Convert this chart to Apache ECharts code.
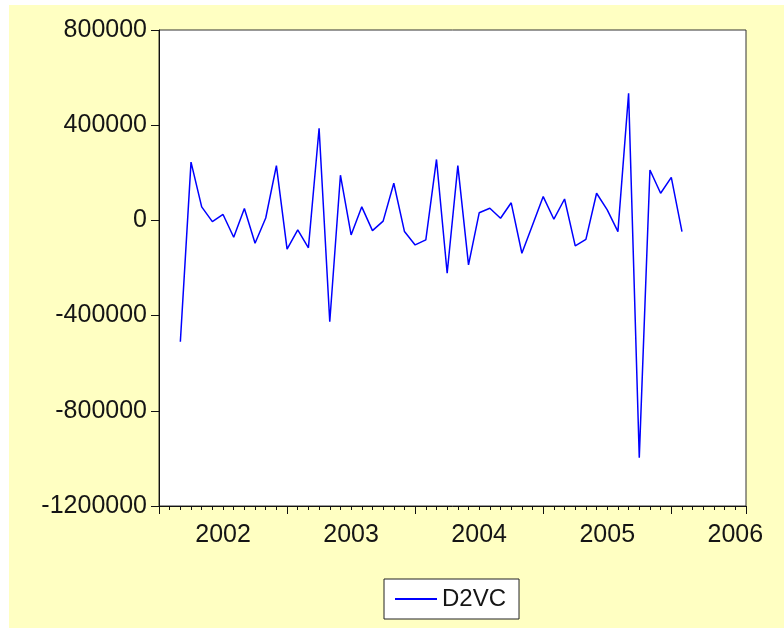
<!DOCTYPE html>
<html>
<head>
<meta charset="utf-8">
<script src="https://cdn.jsdelivr.net/npm/echarts@6/dist/echarts.min.js"></script>
<style>
  html, body { margin: 0; padding: 0; background: #ffffff; }
  #bg { position: absolute; left: 9px; top: 5px; width: 775px; height: 623px; background: #FFFFC2; }
  #chart { position: absolute; left: 0; top: 0; width: 784px; height: 628px; }
</style>
</head>
<body>
<div id="bg"></div>
<div id="chart"></div>
<script>
// Monthly observations; index 0 = 2002M01 (left edge of the axis)
const seriesName = 'D2VC';
const firstObsIndex = 2; // 2002M03
const d2vc = [
  -510000, 245000, 57000, -5000, 25000, -71000, 50000, -96000, 10000, 230000,
  -121000, -40000, -115000, 387000, -426000, 190000, -61000, 57000, -43000, -3000,
  156000, -47000, -103000, -82000, 256000, -222000, 230000, -187000, 32000, 51000,
  9000, 74000, -138000, -19000, 100000, 5000, 90000, -107000, -80000, 114000,
  44000, -47000, 534000, -997000, 212000, 114000, 181000, -47000
];
const yearLabels = ['2002', '2003', '2004', '2005', '2006'];
const yearLabelPos = [6, 18, 30, 42, 54];
const yMin = -1200000, yMax = 800000, yStep = 400000;
const xMin = 0, xMax = 55, xStep = 12;

const points = d2vc.map((v, k) => [firstObsIndex + k, v]);
const font = 'Liberation Sans, Arial, sans-serif';

const chart = echarts.init(document.getElementById('chart'));
chart.setOption({
  animation: false,
  grid: {
    left: 159, right: 38, top: 30, bottom: 122,
    show: true, backgroundColor: '#ffffff', borderColor: '#333333', borderWidth: 1
  },
  legend: {
    data: [seriesName],
    left: 384, top: 579,
    padding: [8, 13, 8, 11],
    backgroundColor: '#ffffff',
    borderColor: '#222222', borderWidth: 1,
    icon: 'rect', itemWidth: 42, itemHeight: 2,
    textStyle: { fontSize: 24, fontFamily: font, color: '#151515' }
  },
  xAxis: {
    type: 'value', min: xMin, max: xMax, interval: xStep,
    axisLine: { show: true, onZero: false, lineStyle: { color: '#111', width: 1 } },
    axisTick: { show: true, length: 8, lineStyle: { color: '#111' } },
    minorTick: { show: true, splitNumber: 12, length: 4, lineStyle: { color: '#111' } },
    splitLine: { show: false },
    axisLabel: {
      customValues: yearLabelPos,
      formatter: v => yearLabels[yearLabelPos.indexOf(Math.round(v))] || '',
      fontSize: 25, fontFamily: font, color: '#151515', margin: 17
    }
  },
  yAxis: {
    type: 'value', min: yMin, max: yMax, interval: yStep,
    axisLine: { show: true, onZero: false, lineStyle: { color: '#111', width: 1 } },
    axisTick: { show: true, length: 8, lineStyle: { color: '#111' } },
    splitLine: { show: false },
    axisLabel: {
      formatter: v => String(v),
      fontSize: 25, fontFamily: font, color: '#151515', margin: 12
    }
  },
  series: [{
    name: seriesName,
    type: 'line',
    data: points,
    showSymbol: false,
    symbol: 'none',
    lineStyle: { color: '#0000FF', width: 1.5 },
    itemStyle: { color: '#0000FF' }
  }]
});
</script>
</body>
</html>
